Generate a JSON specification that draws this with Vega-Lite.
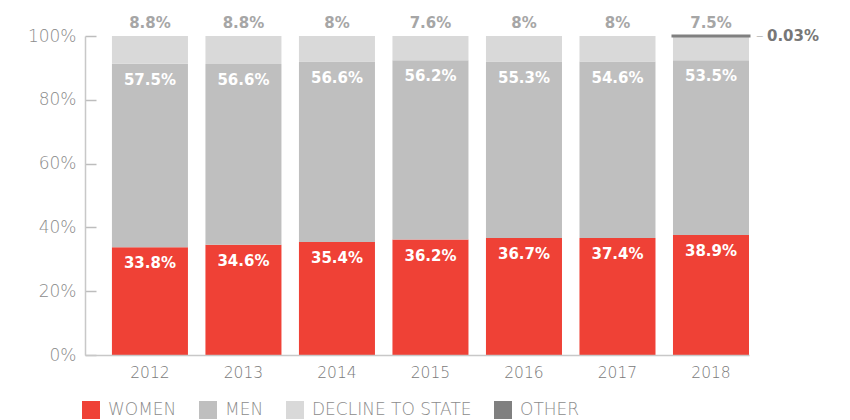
{
  "$schema": "https://vega.github.io/schema/vega-lite/v6.json",
  "width": 664,
  "height": 319,
  "autosize": {"type": "none"},
  "padding": {"left": 85, "top": 36, "right": 101, "bottom": 65},
  "background": "white",
  "config": {"view": {"stroke": null}, "font": "DejaVu Sans"},
  "data": {
    "values": [
      {"year": "2012", "cat": "WOMEN", "ord": 1, "value": 33.8, "label": "33.8%"},
      {"year": "2012", "cat": "MEN", "ord": 2, "value": 57.5, "label": "57.5%"},
      {"year": "2012", "cat": "DECLINE TO STATE", "ord": 3, "value": 8.7, "label": "8.8%"},
      {"year": "2013", "cat": "WOMEN", "ord": 1, "value": 34.6, "label": "34.6%"},
      {"year": "2013", "cat": "MEN", "ord": 2, "value": 56.6, "label": "56.6%"},
      {"year": "2013", "cat": "DECLINE TO STATE", "ord": 3, "value": 8.8, "label": "8.8%"},
      {"year": "2014", "cat": "WOMEN", "ord": 1, "value": 35.4, "label": "35.4%"},
      {"year": "2014", "cat": "MEN", "ord": 2, "value": 56.6, "label": "56.6%"},
      {"year": "2014", "cat": "DECLINE TO STATE", "ord": 3, "value": 8.0, "label": "8%"},
      {"year": "2015", "cat": "WOMEN", "ord": 1, "value": 36.2, "label": "36.2%"},
      {"year": "2015", "cat": "MEN", "ord": 2, "value": 56.2, "label": "56.2%"},
      {"year": "2015", "cat": "DECLINE TO STATE", "ord": 3, "value": 7.6, "label": "7.6%"},
      {"year": "2016", "cat": "WOMEN", "ord": 1, "value": 36.7, "label": "36.7%"},
      {"year": "2016", "cat": "MEN", "ord": 2, "value": 55.3, "label": "55.3%"},
      {"year": "2016", "cat": "DECLINE TO STATE", "ord": 3, "value": 8.0, "label": "8%"},
      {"year": "2017", "cat": "WOMEN", "ord": 1, "value": 36.7, "label": "37.4%"},
      {"year": "2017", "cat": "MEN", "ord": 2, "value": 55.3, "label": "54.6%"},
      {"year": "2017", "cat": "DECLINE TO STATE", "ord": 3, "value": 8.0, "label": "8%"},
      {"year": "2018", "cat": "WOMEN", "ord": 1, "value": 37.6, "label": "38.9%"},
      {"year": "2018", "cat": "MEN", "ord": 2, "value": 54.8, "label": "53.5%"},
      {"year": "2018", "cat": "DECLINE TO STATE", "ord": 3, "value": 7.57, "label": "7.5%"},
      {"year": "2018", "cat": "OTHER", "ord": 4, "value": 0.03, "label": "0.03%"}
    ]
  },
  "transform": [
    {"stack": "value", "groupby": ["year"], "sort": [{"field": "ord", "order": "ascending"}], "offset": "normalize", "as": ["v0", "v1"]}
  ],
  "encoding": {
    "x": {
      "field": "year",
      "type": "ordinal",
      "scale": {"paddingInner": 0.187, "paddingOuter": 0.144, "align": 1},
      "axis": {
        "title": null,
        "labelAngle": 0,
        "ticks": false,
        "domainColor": "#c8c8c8",
        "domainWidth": 1.5,
        "labelFont": "DejaVu Sans",
        "labelFontSize": 15.5,
        "labelFontWeight": 200,
        "labelColor": "#7a7a7a",
        "labelPadding": 10,
        "zindex": 1
      }
    }
  },
  "layer": [
    {
      "mark": {"type": "bar", "stroke": "#808080"},
      "encoding": {
        "y": {
          "field": "v0",
          "type": "quantitative",
          "scale": {"domain": [0, 1]},
          "axis": {
            "title": null,
            "values": [0, 0.2, 0.4, 0.6, 0.8, 1],
            "format": ".0%",
            "grid": false,
            "tickSize": -11,
            "tickColor": "#bdbdbd",
            "tickWidth": 1.5,
            "domainColor": "#c8c8c8",
            "domainWidth": 1.5,
            "labelPadding": 20,
            "labelFont": "DejaVu Sans",
            "labelFontSize": 17,
            "labelFontWeight": 200,
            "labelColor": "#8c8c8c"
          }
        },
        "y2": {"field": "v1"},
        "fill": {
          "field": "cat",
          "type": "nominal",
          "sort": ["WOMEN", "MEN", "DECLINE TO STATE", "OTHER"],
          "scale": {
            "domain": ["WOMEN", "MEN", "DECLINE TO STATE", "OTHER"],
            "range": ["#ef4136", "#bfbfbf", "#d9d9d9", "#808080"]
          },
          "legend": {
            "title": null,
            "orient": "none",
            "legendX": -3,
            "legendY": 365,
            "direction": "horizontal",
            "padding": 0,
            "symbolType": "square",
            "symbolSize": 324,
            "symbolStrokeWidth": 0,
            "labelFont": "DejaVu Sans",
            "labelFontSize": 17,
            "labelFontWeight": 200,
            "labelColor": "#8c8c8c",
            "labelOffset": 8,
            "columnPadding": 22,
            "encode": {
              "symbols": {
                "update": {
                  "fill": {"signal": "datum.value === 'MEN' ? '#a7a7a9' : scale('fill', datum.value)"},
                  "strokeWidth": {"value": 0}
                }
              }
            }
          }
        },
        "strokeWidth": {"condition": {"test": "datum.cat === 'OTHER'", "value": 3}, "value": 0}
      }
    },
    {
      "transform": [{"filter": "datum.cat === 'WOMEN' || datum.cat === 'MEN'"}],
      "mark": {"type": "text", "font": "DejaVu Sans", "fontWeight": "bold", "fontSize": 15, "color": "#ffffff", "baseline": "alphabetic", "dy": 21},
      "encoding": {
        "y": {"field": "v1", "type": "quantitative"},
        "text": {"field": "label"}
      }
    },
    {
      "transform": [{"filter": "datum.cat === 'DECLINE TO STATE'"}],
      "mark": {"type": "text", "font": "DejaVu Sans", "fontWeight": "bold", "fontSize": 15, "color": "#a6a6a6", "baseline": "alphabetic", "dy": -8},
      "encoding": {
        "y": {"datum": 1, "type": "quantitative"},
        "text": {"field": "label"}
      }
    },
    {
      "transform": [{"filter": "datum.cat === 'OTHER'"}],
      "mark": {"type": "text", "font": "DejaVu Sans", "fontWeight": "bold", "fontSize": 15, "color": "#777777", "baseline": "middle", "align": "left", "dx": 56},
      "encoding": {
        "y": {"field": "v1", "type": "quantitative"},
        "text": {"field": "label"}
      }
    },
    {
      "transform": [{"filter": "datum.cat === 'OTHER'"}],
      "mark": {"type": "text", "font": "DejaVu Sans", "fontWeight": 200, "fontSize": 15, "color": "#aaaaaa", "baseline": "middle", "align": "left", "dx": 45},
      "encoding": {
        "y": {"field": "v1", "type": "quantitative"},
        "text": {"value": "–"}
      }
    }
  ]
}
